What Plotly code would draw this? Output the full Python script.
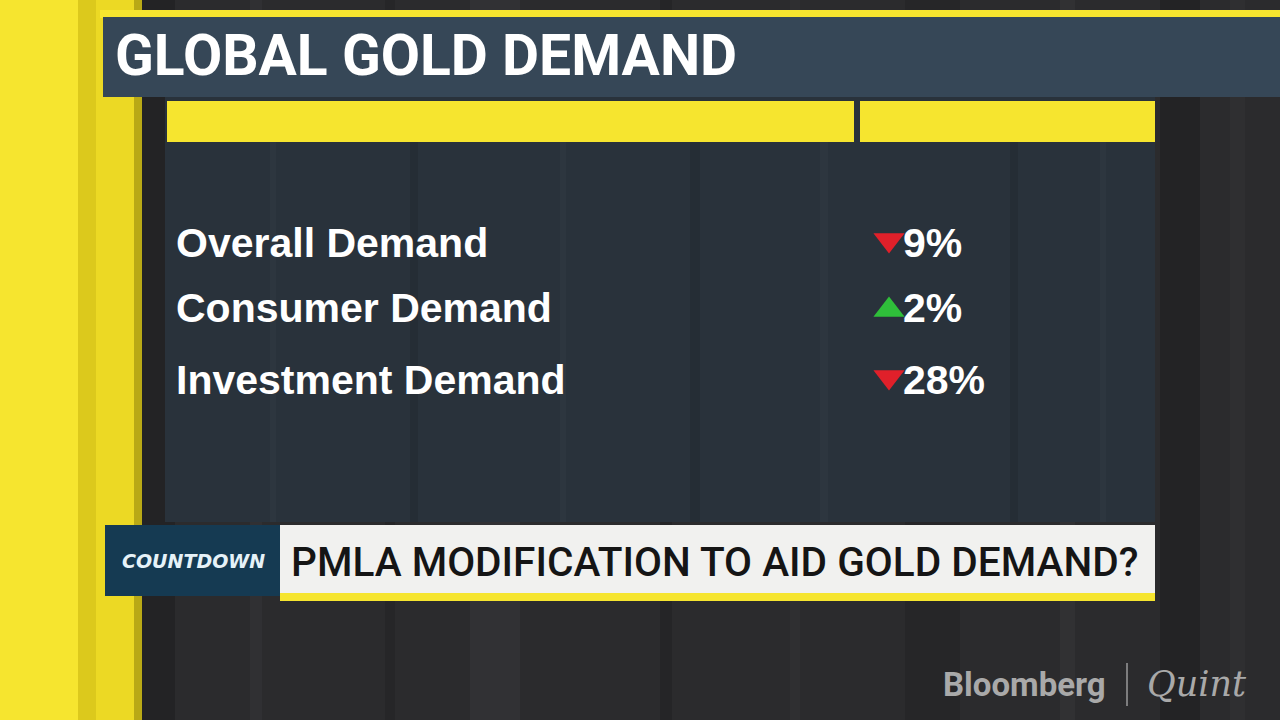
import plotly.graph_objects as go

title = "GLOBAL GOLD DEMAND"
categories = ["Overall Demand", "Consumer Demand", "Investment Demand"]
changes = [-9, 2, -28]
ticker = "PMLA MODIFICATION TO AID GOLD DEMAND?"

# layout (pixel coordinates, 1280x720 frame)
row_y = [247, 312, 384]
label_x = 176
arrow_x = 889
value_x = 903

YELLOW = "#f6e52f"
SLATE = "#364757"
PANEL = "#29323b"

fig = go.Figure()

shapes = []
# studio background with vertical stripes
shapes.append(dict(type="rect", x0=0, x1=1280, y0=0, y1=720, fillcolor="#2b2b2d", line_width=0, layer="below"))
stripes = [(140, 175, "#232325"), (250, 262, "#303033"), (385, 395, "#262628"), (470, 520, "#313134"),
           (660, 672, "#252527"), (790, 800, "#2f2f31"), (905, 960, "#262628"), (1060, 1075, "#313133"),
           (1160, 1200, "#232325"), (1230, 1245, "#2f2f31")]
for x0, x1, c in stripes:
    shapes.append(dict(type="rect", x0=x0, x1=x1, y0=0, y1=720, fillcolor=c, line_width=0, layer="below"))
# left yellow column
shapes.append(dict(type="rect", x0=0, x1=78, y0=0, y1=720, fillcolor=YELLOW, line_width=0, layer="below"))
shapes.append(dict(type="rect", x0=78, x1=96, y0=0, y1=720, fillcolor="#dcc91c", line_width=0, layer="below"))
shapes.append(dict(type="rect", x0=96, x1=136, y0=0, y1=720, fillcolor="#ecd924", line_width=0, layer="below"))
shapes.append(dict(type="rect", x0=134, x1=142, y0=0, y1=720, fillcolor="#b9a916", line_width=0, layer="below"))
# top yellow rule and title bar
shapes.append(dict(type="rect", x0=100, x1=1280, y0=10, y1=18, fillcolor=YELLOW, line_width=0, layer="below"))
shapes.append(dict(type="rect", x0=103, x1=1280, y0=17, y1=97, fillcolor=SLATE, line_width=0, layer="below"))
# table panel and header bars
shapes.append(dict(type="rect", x0=165, x1=1155, y0=97, y1=522, fillcolor=PANEL, line_width=0, layer="below"))
for x0, x1, c in [(270, 276, "#2d363f"), (410, 418, "#252d35"), (560, 566, "#2d363f"), (690, 700, "#252d35"),
                  (820, 828, "#2d363f"), (1010, 1018, "#252d35"), (1100, 1106, "#2d363f")]:
    shapes.append(dict(type="rect", x0=x0, x1=x1, y0=142, y1=522, fillcolor=c, line_width=0, layer="below"))
shapes.append(dict(type="rect", x0=167, x1=854, y0=101, y1=142, fillcolor=YELLOW, line_width=0, layer="below"))
shapes.append(dict(type="rect", x0=860, x1=1155, y0=101, y1=142, fillcolor=YELLOW, line_width=0, layer="below"))
# lower third
shapes.append(dict(type="rect", x0=105, x1=280, y0=525, y1=596, fillcolor="#153a52", line_width=0, layer="below"))
shapes.append(dict(type="rect", x0=280, x1=1155, y0=525, y1=600, fillcolor="#f1f1ef", line_width=0, layer="below"))
shapes.append(dict(type="rect", x0=280, x1=1155, y0=593, y1=601, fillcolor=YELLOW, line_width=0, layer="below"))
# logo divider
shapes.append(dict(type="line", x0=1127, x1=1127, y0=663, y1=706, line=dict(color="#9a9a9a", width=1.5)))

# category labels
fig.add_trace(go.Scatter(
    x=[label_x] * len(categories), y=row_y, mode="text", text=categories,
    textposition="middle right",
    textfont=dict(family="Liberation Sans", size=41, color="white", weight="bold"),
    hoverinfo="skip", showlegend=False,
))

# direction arrows
fig.add_trace(go.Scatter(
    x=[arrow_x] * len(changes),
    y=[y - 2 if v > 0 else y - 7 for y, v in zip(row_y, changes)],
    mode="markers",
    marker=dict(
        symbol=["triangle-up" if v > 0 else "triangle-down" for v in changes],
        color=["#2fbf3a" if v > 0 else "#e0202a" for v in changes],
        size=27, line_width=0,
    ),
    hoverinfo="skip", showlegend=False,
))

# values
fig.add_trace(go.Scatter(
    x=[value_x] * len(changes), y=row_y, mode="text",
    text=[f"{abs(v)}%" for v in changes],
    textposition="middle right",
    textfont=dict(family="Liberation Sans", size=41, color="white", weight="bold"),
    hoverinfo="skip", showlegend=False,
))

annotations = [
    dict(x=113, y=55, text=title, xanchor="left", yanchor="middle", showarrow=False,
         font=dict(family="Roboto", size=57, color="white", weight="bold")),
    dict(x=193, y=561, text="<i>COUNTDOWN</i>", xanchor="center", yanchor="middle", showarrow=False,
         font=dict(family="DejaVu Sans", size=19, color="#e6f2f8", weight="bold")),
    dict(x=289, y=562, text=ticker, xanchor="left", yanchor="middle", showarrow=False,
         font=dict(family="Roboto", size=40.6, color="#151515", weight=500)),
    dict(x=1108, y=684, text="Bloomberg", xanchor="right", yanchor="middle", showarrow=False,
         font=dict(family="Roboto", size=33, color="#a9a9a9", weight="bold")),
    dict(x=1145, y=684, text="<i>Quint</i>", xanchor="left", yanchor="middle", showarrow=False,
         font=dict(family="DejaVu Serif", size=35, color="#a9a9a9")),
]

fig.update_layout(
    width=1280, height=720,
    margin=dict(l=0, r=0, t=0, b=0),
    paper_bgcolor="#2b2b2d", plot_bgcolor="#2b2b2d",
    xaxis=dict(range=[0, 1280], visible=False, fixedrange=True),
    yaxis=dict(range=[720, 0], visible=False, fixedrange=True),
    shapes=shapes, annotations=annotations,
)

# page body has a default 8px margin; drop it so the frame fills the window
fig.write_html("out.html", config={"displayModeBar": False},
               post_script="document.body.style.margin='0';document.body.style.overflow='hidden';")
